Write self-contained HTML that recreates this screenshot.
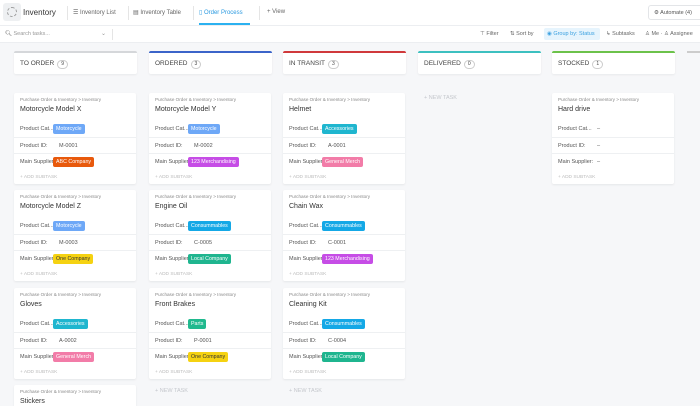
<!DOCTYPE html>
<html style="width:700px;height:406px;overflow:hidden"><head><meta charset="utf-8"><style>
*{box-sizing:border-box;margin:0;padding:0}
body{width:700px;height:406px;overflow:hidden;background:#f6f7f9;font-family:"Liberation Sans",sans-serif;color:#333;position:relative}
.top{position:absolute;left:0;top:0;width:700px;height:26px;background:#fff;border-bottom:1px solid #eceef1}
.sb{position:absolute;left:0;top:26px;width:700px;height:17px;background:#fff;border-bottom:1px solid #eceef1}
.t{position:absolute;white-space:nowrap}
.ch{position:absolute;top:51px;width:123px;height:23px;background:#fff;border-radius:2px;border-top:2px solid #ccc;box-shadow:0 1px 2px rgba(0,0,0,.06);font-size:6.5px;color:#444;padding:7px 0 0 6px}
.ch b{font-weight:normal;display:inline-block;border:1px solid #ccc;border-radius:5px;padding:0 3px;font-size:5px;margin-left:3px;line-height:7px}
.card{position:absolute;width:122px;height:91px;background:#fff;border-radius:2px;box-shadow:0 1px 2px rgba(0,0,0,.07);font-size:5.5px;color:#555}
.card .bc{position:absolute;left:6px;top:4px;font-size:4.6px;color:#888}
.card .ti{position:absolute;left:6px;top:13px;font-size:7px;color:#333}
.card .r{position:absolute;left:0;width:122px;height:16px}
.card .r1{top:28px}.card .r2{top:44px;border-top:1px solid #eef0f2}.card .r3{top:60px;border-top:1px solid #eef0f2}
.card .l{position:absolute;left:6px;top:5px}
.card .v{position:absolute;left:45px;top:5px}
.p{position:absolute;left:39px;top:3px;height:10px;line-height:10px;padding:0 3px;border-radius:2px;color:#fff;font-size:5.3px}
.card .as{position:absolute;left:6px;top:82px;font-size:4.8px;color:#bbb}
.nt{position:absolute;font-size:5.5px;color:#c4c7cc}
.moto{background:#6ea8f7}.abc{background:#e8590c}.m123{background:#c64de6}.one{background:#f5d211;color:#333}.gen{background:#f27ca8}.acc{background:#1fb6cf}.cons{background:#14a8e6}.loc{background:#1fb58f}.parts{background:#20b98e}
</style></head><body>
<div class="top">
 <div class="t" style="left:3px;top:3px;width:18px;height:18px;background:#eef0f2;border-radius:3px"></div>
 <div class="t" style="left:7px;top:7px;width:10px;height:10px;border:1px dashed #999;border-radius:50%"></div>
 <div class="t" style="left:23px;top:8px;font-size:8px;color:#333">Inventory</div>
 <div class="t" style="left:67px;top:6px;height:14px;border-left:1px solid #e5e5e5"></div>
 <div class="t" style="left:73px;top:9px;font-size:6px;color:#666">☰ Inventory List</div>
 <div class="t" style="left:128px;top:6px;height:14px;border-left:1px solid #e5e5e5"></div>
 <div class="t" style="left:133px;top:9px;font-size:6px;color:#666">▤ Inventory Table</div>
 <div class="t" style="left:193px;top:6px;height:14px;border-left:1px solid #e5e5e5"></div>
 <div class="t" style="left:199px;top:9px;font-size:6px;color:#2b9ae0">▯ Order Process</div>
 <div class="t" style="left:199px;top:23px;width:51px;height:2px;background:#2bb1f0"></div>
 <div class="t" style="left:259px;top:6px;height:14px;border-left:1px solid #e5e5e5"></div>
 <div class="t" style="left:267px;top:9px;font-size:6px;color:#666">+ View</div>
 <div class="t" style="left:648px;top:5px;width:60px;height:15px;border:1px solid #e3e5e8;border-radius:3px;font-size:5.5px;color:#555;padding:4px 0 0 5px">⚙ Automate (4)</div>
</div>
<div class="sb">
 <div class="t" style="left:5px;top:5px;font-size:5.5px;color:#999"><span style="color:#555">🔍︎</span> Search tasks...</div>
 <div class="t" style="left:101px;top:4px;font-size:6px;color:#999">⌄</div>
 <div class="t" style="left:112px;top:3px;height:11px;border-left:1px solid #e5e5e5"></div>
 <div class="t" style="left:480px;top:5px;font-size:5.5px;color:#666">⊤ Filter</div>
 <div class="t" style="left:510px;top:5px;font-size:5.5px;color:#666">⇅ Sort by</div>
 <div class="t" style="left:544px;top:2px;width:56px;height:12px;background:#e6f4fd;border-radius:2px"></div>
 <div class="t" style="left:547px;top:5px;font-size:5.5px;color:#3aa0e0">◉ Group by: Status</div>
 <div class="t" style="left:606px;top:5px;font-size:5.5px;color:#666">↳ Subtasks</div>
 <div class="t" style="left:645px;top:5px;font-size:5.5px;color:#666">♙ Me · ♙ Assignee</div>
</div>

<div class="ch" style="left:14px;border-top-color:#d5d7da">TO ORDER<b>9</b></div>
<div class="ch" style="left:149px;border-top-color:#3b64c9">ORDERED<b>3</b></div>
<div class="ch" style="left:283px;border-top-color:#d0393b">IN TRANSIT<b>3</b></div>
<div class="ch" style="left:418px;border-top-color:#3cc0c0">DELIVERED<b>0</b></div>
<div class="ch" style="left:552px;border-top-color:#6cc24a">STOCKED<b>1</b></div>
<div class="t" style="left:687px;top:51px;width:20px;height:2px;background:#ccc"></div>

<div class="card" style="left:14px;top:93px"><div class="bc">Purchase Order &amp; Inventory &gt; Inventory</div><div class="ti">Motorcycle Model X</div>
<div class="r r1"><span class="l">Product Cat...</span><span class="p moto">Motorcycle</span></div>
<div class="r r2"><span class="l">Product ID:</span><span class="v">M-0001</span></div>
<div class="r r3"><span class="l">Main Supplier</span><span class="p abc">ABC Company</span></div><div class="as">+ ADD SUBTASK</div></div>
<div class="card" style="left:14px;top:190px"><div class="bc">Purchase Order &amp; Inventory &gt; Inventory</div><div class="ti">Motorcycle Model Z</div>
<div class="r r1"><span class="l">Product Cat...</span><span class="p moto">Motorcycle</span></div>
<div class="r r2"><span class="l">Product ID:</span><span class="v">M-0003</span></div>
<div class="r r3"><span class="l">Main Supplier</span><span class="p one">One Company</span></div><div class="as">+ ADD SUBTASK</div></div>
<div class="card" style="left:14px;top:288px"><div class="bc">Purchase Order &amp; Inventory &gt; Inventory</div><div class="ti">Gloves</div>
<div class="r r1"><span class="l">Product Cat...</span><span class="p acc">Accessories</span></div>
<div class="r r2"><span class="l">Product ID:</span><span class="v">A-0002</span></div>
<div class="r r3"><span class="l">Main Supplier</span><span class="p gen">General Merch</span></div><div class="as">+ ADD SUBTASK</div></div>
<div class="card" style="left:14px;top:385px;height:21px;border-radius:2px 2px 0 0"><div class="bc">Purchase Order &amp; Inventory &gt; Inventory</div><div class="ti">Stickers</div></div>

<div class="card" style="left:149px;top:93px"><div class="bc">Purchase Order &amp; Inventory &gt; Inventory</div><div class="ti">Motorcycle Model Y</div>
<div class="r r1"><span class="l">Product Cat...</span><span class="p moto">Motorcycle</span></div>
<div class="r r2"><span class="l">Product ID:</span><span class="v">M-0002</span></div>
<div class="r r3"><span class="l">Main Supplier</span><span class="p m123">123 Merchandising</span></div><div class="as">+ ADD SUBTASK</div></div>
<div class="card" style="left:149px;top:190px"><div class="bc">Purchase Order &amp; Inventory &gt; Inventory</div><div class="ti">Engine Oil</div>
<div class="r r1"><span class="l">Product Cat...</span><span class="p cons">Consummables</span></div>
<div class="r r2"><span class="l">Product ID:</span><span class="v">C-0005</span></div>
<div class="r r3"><span class="l">Main Supplier</span><span class="p loc">Local Company</span></div><div class="as">+ ADD SUBTASK</div></div>
<div class="card" style="left:149px;top:288px"><div class="bc">Purchase Order &amp; Inventory &gt; Inventory</div><div class="ti">Front Brakes</div>
<div class="r r1"><span class="l">Product Cat...</span><span class="p parts">Parts</span></div>
<div class="r r2"><span class="l">Product ID:</span><span class="v">P-0001</span></div>
<div class="r r3"><span class="l">Main Supplier</span><span class="p one">One Company</span></div><div class="as">+ ADD SUBTASK</div></div>
<div class="nt" style="left:155px;top:388px">+ NEW TASK</div>

<div class="card" style="left:283px;top:93px"><div class="bc">Purchase Order &amp; Inventory &gt; Inventory</div><div class="ti">Helmet</div>
<div class="r r1"><span class="l">Product Cat...</span><span class="p acc">Accessories</span></div>
<div class="r r2"><span class="l">Product ID:</span><span class="v">A-0001</span></div>
<div class="r r3"><span class="l">Main Supplier</span><span class="p gen">General Merch</span></div><div class="as">+ ADD SUBTASK</div></div>
<div class="card" style="left:283px;top:190px"><div class="bc">Purchase Order &amp; Inventory &gt; Inventory</div><div class="ti">Chain Wax</div>
<div class="r r1"><span class="l">Product Cat...</span><span class="p cons">Consummables</span></div>
<div class="r r2"><span class="l">Product ID:</span><span class="v">C-0001</span></div>
<div class="r r3"><span class="l">Main Supplier</span><span class="p m123">123 Merchandising</span></div><div class="as">+ ADD SUBTASK</div></div>
<div class="card" style="left:283px;top:288px"><div class="bc">Purchase Order &amp; Inventory &gt; Inventory</div><div class="ti">Cleaning Kit</div>
<div class="r r1"><span class="l">Product Cat...</span><span class="p cons">Consummables</span></div>
<div class="r r2"><span class="l">Product ID:</span><span class="v">C-0004</span></div>
<div class="r r3"><span class="l">Main Supplier</span><span class="p loc">Local Company</span></div><div class="as">+ ADD SUBTASK</div></div>
<div class="nt" style="left:289px;top:388px">+ NEW TASK</div>

<div class="nt" style="left:424px;top:95px">+ NEW TASK</div>

<div class="card" style="left:552px;top:93px"><div class="bc">Purchase Order &amp; Inventory &gt; Inventory</div><div class="ti">Hard drive</div>
<div class="r r1"><span class="l">Product Cat...</span><span class="v">–</span></div>
<div class="r r2"><span class="l">Product ID:</span><span class="v">–</span></div>
<div class="r r3"><span class="l">Main Supplier:</span><span class="v">–</span></div><div class="as">+ ADD SUBTASK</div></div>
</body></html>
